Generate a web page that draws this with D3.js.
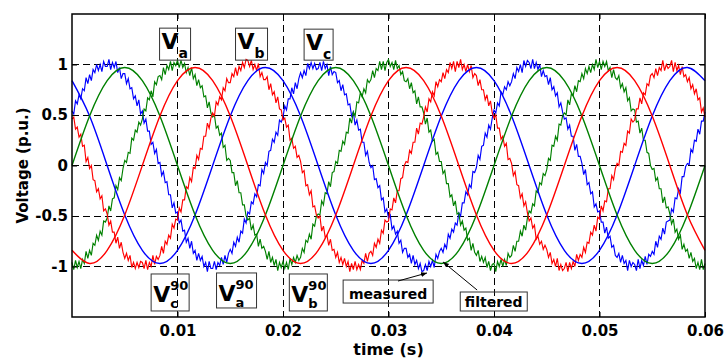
<!DOCTYPE html>
<html>
<head>
<meta charset="utf-8">
<script src="https://cdn.jsdelivr.net/npm/d3@7"></script>
<style>
  body { margin: 0; background: #fff; }
  svg { display: block; font-family: "DejaVu Sans", sans-serif; font-weight: bold; }
</style>
</head>
<body>
<svg width="725" height="358"></svg>
<script>
// sample spacing of the traces (s)
const measuredStep = 1 / 6000;
const filteredStep = 1 / 600;

// axis ticks
const xTicks = [0.01, 0.02, 0.03, 0.04, 0.05, 0.06];
const yTicks = [-1, -0.5, 0, 0.5, 1];
const yTickLabels = ["-1", "-0.5", "0", "0.5", "1"];

// measured phase voltages (p.u.), with switching ripple
const measuredA = [
  -0.96,-1.03,-0.94,-1.01,-0.95,-1.02,-0.93,-0.97,-0.85,-0.92,
  -0.84,-0.89,-0.77,-0.79,-0.69,-0.74,-0.65,-0.69,-0.55,-0.56,
  -0.52,-0.40,-0.45,-0.33,-0.32,-0.20,-0.24,-0.12,-0.15,-0.03,
  0.05,0.03,0.13,0.12,0.27,0.25,0.35,0.33,0.43,0.40,
  0.46,0.56,0.54,0.67,0.65,0.74,0.68,0.83,0.80,0.88,
  0.89,0.85,0.97,0.90,0.99,0.95,1.03,0.94,1.02,0.99,
  1.04,0.97,1.04,0.97,1.01,0.92,0.97,0.89,0.97,0.86,
  0.90,0.79,0.85,0.77,0.79,0.68,0.69,0.57,0.63,0.52,
  0.48,0.50,0.37,0.39,0.30,0.32,0.18,0.20,0.05,0.07,
  0.05,-0.07,-0.07,-0.20,-0.15,-0.27,-0.27,-0.39,-0.39,-0.50,
  -0.54,-0.52,-0.64,-0.59,-0.69,-0.68,-0.80,-0.73,-0.82,-0.80,
  -0.85,-0.93,-0.85,-0.96,-0.91,-0.99,-0.93,-1.04,-0.96,-1.01,
  -0.95,-1.02,-0.96,-1.03,-0.92,-0.98,-0.91,-0.96,-0.89,-0.94,
  -0.91,-0.82,-0.86,-0.74,-0.76,-0.68,-0.73,-0.58,-0.60,-0.50,
  -0.48,-0.49,-0.35,-0.39,-0.27,-0.28,-0.16,-0.21,-0.07,-0.06,
  0.04,0.02,0.15,0.14,0.24,0.21,0.33,0.32,0.47,0.42,
  0.53,0.49,0.63,0.62,0.72,0.68,0.76,0.72,0.85,0.82,
  0.85,0.94,0.87,0.96,0.94,1.03,0.95,1.03,0.94,1.02,
  1.05,0.98,1.02,0.95,1.04,0.96,0.99,0.90,0.93,0.84,
  0.83,0.86,0.76,0.82,0.72,0.74,0.61,0.68,0.58,0.58,
  0.52,0.41,0.47,0.33,0.35,0.24,0.26,0.11,0.13,0.04,
  0.04,-0.08,-0.05,-0.18,-0.18,-0.31,-0.29,-0.40,-0.35,-0.48,
  -0.47,-0.59,-0.55,-0.64,-0.62,-0.74,-0.72,-0.84,-0.77,-0.86,
  -0.89,-0.84,-0.95,-0.90,-0.96,-0.91,-1.01,-0.95,-1.04,-0.98,
  -0.97,-1.05,-0.95,-1.00,-0.93,-1.00,-0.93,-0.99,-0.87,-0.91,
  -0.89,-0.79,-0.85,-0.75,-0.75,-0.65,-0.70,-0.59,-0.64,-0.52,
  -0.45,-0.47,-0.38,-0.40,-0.25,-0.27,-0.17,-0.19,-0.08,-0.10,
  -0.04,0.07,0.05,0.20,0.19,0.29,0.25,0.41,0.40,0.49,
  0.52,0.50,0.65,0.60,0.71,0.69,0.79,0.73,0.84,0.83,
  0.91,0.86,0.96,0.91,0.98,0.92,1.00,0.95,1.05,0.97,
  1.03,0.95,1.03,0.98,1.03,0.94,0.97,0.87,0.95,0.87,
  0.85,0.89,0.77,0.81,0.73,0.77,0.64,0.67,0.54,0.56,
  0.55,0.43,0.44,0.32,0.37,0.25,0.25,0.13,0.12,0.00,
  -0.04,-0.03,-0.15,-0.12,-0.23,-0.23,-0.37,-0.31,-0.42,-0.41,
  -0.48,-0.58,-0.53,-0.66,-0.63,-0.73,-0.69,-0.83,-0.78,-0.85,
  -0.83,-0.92,-0.86,-0.95,-0.92,-1.02,-0.96,-1.03,-0.93,-1.03,
  -0.97
];
const measuredB = [
  0.46,0.48,0.36,0.38,0.28,0.31,0.19,0.20,0.04,0.08,
  -0.03,0.00,-0.14,-0.15,-0.26,-0.23,-0.33,-0.30,-0.45,-0.43,
  -0.48,-0.59,-0.55,-0.66,-0.66,-0.77,-0.71,-0.82,-0.76,-0.86,
  -0.92,-0.87,-0.94,-0.89,-1.01,-0.96,-1.02,-0.96,-1.01,-0.95,
  -0.96,-1.02,-0.94,-1.03,-0.96,-1.00,-0.89,-0.98,-0.90,-0.93,
  -0.89,-0.80,-0.87,-0.75,-0.78,-0.69,-0.72,-0.58,-0.62,-0.53,
  -0.54,-0.42,-0.46,-0.34,-0.34,-0.21,-0.23,-0.12,-0.16,-0.02,
  -0.03,0.10,0.06,0.17,0.16,0.29,0.29,0.42,0.37,0.47,
  0.52,0.49,0.63,0.60,0.68,0.65,0.77,0.74,0.86,0.82,
  0.82,0.91,0.88,0.97,0.89,0.98,0.94,1.02,0.97,1.05,
  1.04,0.98,1.04,0.95,1.00,0.94,1.01,0.88,0.92,0.85,
  0.85,0.88,0.75,0.81,0.70,0.73,0.62,0.68,0.56,0.55,
  0.45,0.47,0.38,0.40,0.25,0.27,0.17,0.19,0.08,0.10,
  0.04,-0.07,-0.05,-0.20,-0.19,-0.29,-0.25,-0.41,-0.40,-0.49,
  -0.52,-0.50,-0.65,-0.60,-0.71,-0.69,-0.79,-0.73,-0.84,-0.83,
  -0.91,-0.86,-0.96,-0.91,-0.98,-0.92,-1.00,-0.95,-1.05,-0.97,
  -1.03,-0.95,-1.03,-0.98,-1.03,-0.94,-0.97,-0.87,-0.95,-0.87,
  -0.85,-0.89,-0.77,-0.81,-0.73,-0.77,-0.64,-0.67,-0.54,-0.56,
  -0.55,-0.43,-0.44,-0.32,-0.37,-0.25,-0.25,-0.13,-0.12,0.00,
  0.04,0.03,0.15,0.12,0.23,0.23,0.37,0.31,0.42,0.41,
  0.48,0.58,0.53,0.66,0.63,0.73,0.69,0.83,0.78,0.85,
  0.83,0.92,0.86,0.95,0.92,1.02,0.96,1.03,0.93,1.03,
  0.97,1.05,0.95,1.00,0.93,1.00,0.93,0.99,0.87,0.91,
  0.89,0.79,0.85,0.75,0.75,0.65,0.70,0.59,0.64,0.52,
  0.47,0.50,0.37,0.37,0.26,0.29,0.19,0.22,0.06,0.07,
  0.02,-0.10,-0.06,-0.19,-0.20,-0.32,-0.28,-0.40,-0.36,-0.47,
  -0.55,-0.52,-0.62,-0.59,-0.73,-0.70,-0.78,-0.75,-0.83,-0.79,
  -0.83,-0.91,-0.86,-0.97,-0.93,-1.00,-0.92,-1.04,-0.98,-1.04,
  -1.02,-0.96,-1.05,-0.96,-1.02,-0.95,-1.00,-0.88,-0.94,-0.88,
  -0.91,-0.81,-0.86,-0.76,-0.77,-0.66,-0.69,-0.59,-0.65,-0.51,
  -0.53,-0.40,-0.45,-0.35,-0.36,-0.23,-0.23,-0.10,-0.14,-0.03,
  0.02,0.00,0.14,0.13,0.22,0.20,0.34,0.32,0.46,0.43,
  0.45,0.56,0.56,0.67,0.61,0.72,0.70,0.81,0.79,0.89,
  0.91,0.87,0.96,0.89,0.97,0.94,1.04,0.94,1.00,0.96,
  0.98,1.04,0.93,1.02,0.94,0.99,0.90,0.98,0.88,0.90,
  0.83,0.87,0.76,0.80,0.71,0.76,0.65,0.67,0.53,0.57,
  0.48
];
const measuredC = [
  0.54,0.51,0.64,0.61,0.70,0.66,0.76,0.74,0.87,0.81,
  0.90,0.84,0.95,0.92,1.00,0.94,1.00,0.93,1.03,0.98,
  0.98,1.05,0.95,1.02,0.97,1.03,0.92,0.97,0.86,0.91,
  0.91,0.81,0.86,0.76,0.77,0.66,0.69,0.59,0.65,0.51,
  0.54,0.42,0.46,0.34,0.34,0.21,0.23,0.12,0.16,0.02,
  0.03,-0.10,-0.06,-0.17,-0.16,-0.29,-0.29,-0.42,-0.37,-0.47,
  -0.46,-0.57,-0.54,-0.65,-0.64,-0.76,-0.72,-0.82,-0.75,-0.87,
  -0.84,-0.94,-0.87,-0.94,-0.90,-1.00,-0.96,-1.05,-0.95,-1.02,
  -1.02,-0.95,-1.03,-0.96,-0.99,-0.91,-0.98,-0.89,-0.96,-0.87,
  -0.83,-0.87,-0.76,-0.80,-0.71,-0.76,-0.65,-0.67,-0.53,-0.57,
  -0.46,-0.48,-0.36,-0.38,-0.28,-0.31,-0.19,-0.20,-0.04,-0.08,
  0.03,0.00,0.14,0.15,0.26,0.23,0.33,0.30,0.45,0.43,
  0.48,0.59,0.55,0.66,0.66,0.77,0.71,0.82,0.76,0.86,
  0.92,0.87,0.94,0.89,1.01,0.96,1.02,0.96,1.01,0.95,
  0.96,1.02,0.94,1.03,0.96,1.00,0.89,0.98,0.90,0.93,
  0.92,0.82,0.84,0.74,0.80,0.70,0.71,0.60,0.61,0.49,
  0.53,0.40,0.45,0.35,0.36,0.23,0.23,0.10,0.14,0.03,
  -0.02,0.00,-0.14,-0.13,-0.22,-0.20,-0.34,-0.32,-0.46,-0.43,
  -0.52,-0.49,-0.63,-0.60,-0.68,-0.65,-0.77,-0.74,-0.86,-0.82,
  -0.82,-0.91,-0.88,-0.97,-0.89,-0.98,-0.94,-1.02,-0.97,-1.05,
  -1.04,-0.98,-1.04,-0.95,-1.00,-0.94,-1.01,-0.88,-0.92,-0.85,
  -0.82,-0.86,-0.78,-0.82,-0.68,-0.72,-0.63,-0.66,-0.57,-0.59,
  -0.47,-0.50,-0.37,-0.37,-0.26,-0.29,-0.19,-0.22,-0.06,-0.07,
  -0.02,0.10,0.06,0.19,0.20,0.32,0.28,0.40,0.36,0.47,
  0.55,0.52,0.62,0.59,0.73,0.70,0.78,0.75,0.83,0.79,
  0.83,0.91,0.86,0.97,0.93,1.00,0.92,1.04,0.98,1.04,
  1.02,0.96,1.05,0.96,1.02,0.95,1.00,0.88,0.94,0.88,
  0.89,0.80,0.87,0.75,0.78,0.69,0.72,0.58,0.62,0.53,
  0.46,0.47,0.36,0.40,0.29,0.29,0.15,0.21,0.09,0.09,
  0.02,-0.09,-0.04,-0.19,-0.17,-0.28,-0.26,-0.41,-0.38,-0.46,
  -0.45,-0.56,-0.56,-0.67,-0.61,-0.72,-0.70,-0.81,-0.79,-0.89,
  -0.91,-0.87,-0.96,-0.89,-0.97,-0.94,-1.04,-0.94,-1.00,-0.96,
  -0.98,-1.04,-0.93,-1.02,-0.94,-0.99,-0.90,-0.98,-0.88,-0.90,
  -0.85,-0.88,-0.75,-0.81,-0.70,-0.73,-0.62,-0.68,-0.56,-0.55,
  -0.54,-0.43,-0.46,-0.32,-0.33,-0.23,-0.27,-0.11,-0.11,-0.01,
  0.02,0.01,0.16,0.13,0.25,0.24,0.36,0.31,0.44,0.44,
  0.53
];

// filtered (90 degree) voltages (p.u.)
const filteredA = [
  0, 0.49, 0.84, 0.97, 0.84, 0.49, 0, -0.49, -0.84, -0.97, -0.84, -0.49,
  0, 0.49, 0.84, 0.97, 0.84, 0.49, 0, -0.49, -0.84, -0.97, -0.84, -0.49,
  0, 0.49, 0.84, 0.97, 0.84, 0.49, 0, -0.49, -0.84, -0.97, -0.84, -0.49,
  0
];
const filteredB = [
  -0.84, -0.97, -0.84, -0.49, 0, 0.49, 0.84, 0.97, 0.84, 0.49, 0, -0.49,
  -0.84, -0.97, -0.84, -0.49, 0, 0.49, 0.84, 0.97, 0.84, 0.49, 0, -0.49,
  -0.84, -0.97, -0.84, -0.49, 0, 0.49, 0.84, 0.97, 0.84, 0.49, 0, -0.49,
  -0.84
];
const filteredC = [
  0.84, 0.49, 0, -0.49, -0.84, -0.97, -0.84, -0.49, 0, 0.49, 0.84, 0.97,
  0.84, 0.49, 0, -0.49, -0.84, -0.97, -0.84, -0.49, 0, 0.49, 0.84, 0.97,
  0.84, 0.49, 0, -0.49, -0.84, -0.97, -0.84, -0.49, 0, 0.49, 0.84, 0.97,
  0.84
];

const svg = d3.select("svg");
const plotLeft = 72, plotRight = 705, plotTop = 14, plotBottom = 317;

const x = d3.scaleLinear().domain([0, 0.06]).range([plotLeft, plotRight]);
const y = d3.scaleLinear().domain([-1.5, 1.5]).range([plotBottom, plotTop]);

svg.append("rect").attr("width", 725).attr("height", 358).attr("fill", "#fff");

// dashed grid
const grid = svg.append("g")
  .attr("stroke", "#000")
  .attr("stroke-width", 1)
  .attr("stroke-dasharray", "7,4")
  .attr("shape-rendering", "crispEdges");
grid.selectAll(".gx").data(xTicks.slice(0, -1)).enter().append("line")
  .attr("x1", d => x(d)).attr("x2", d => x(d))
  .attr("y1", plotTop).attr("y2", plotBottom);
grid.selectAll(".gy").data(yTicks).enter().append("line")
  .attr("x1", plotLeft).attr("x2", plotRight)
  .attr("y1", d => y(d)).attr("y2", d => y(d));

const colors = { a: "#008000", b: "#ff0000", c: "#0000ff" };

const measuredLine = d3.line()
  .x((d, i) => x(i * measuredStep))
  .y(d => y(d));
const filteredLine = d3.line()
  .x((d, i) => x(i * filteredStep))
  .y(d => y(d))
  .curve(d3.curveNatural);

const traces = svg.append("g").attr("fill", "none");
[[measuredC, "c"], [measuredA, "a"], [measuredB, "b"]].forEach(([vals, ph]) => {
  traces.append("path")
    .attr("d", measuredLine(vals))
    .attr("stroke", colors[ph])
    .attr("stroke-width", 1.15);
});
[[filteredC, "c"], [filteredA, "a"], [filteredB, "b"]].forEach(([vals, ph]) => {
  traces.append("path")
    .attr("d", filteredLine(vals))
    .attr("stroke", colors[ph])
    .attr("stroke-width", 1.4);
});

// axes with inward ticks
function styleAxis(g) {
  g.select(".domain").remove();
  g.attr("font-family", "DejaVu Sans, sans-serif")
    .attr("font-weight", "bold")
    .attr("font-size", 15);
  g.selectAll("text").attr("fill", "#000");
  g.selectAll("line").attr("stroke", "#000");
}
svg.append("g")
  .attr("transform", `translate(0,${plotBottom})`)
  .call(d3.axisBottom(x).tickValues(xTicks).tickSize(-5).tickPadding(8.5).tickFormat(d3.format(".2f")))
  .call(styleAxis);
svg.append("g")
  .attr("transform", `translate(0,${plotTop})`)
  .call(d3.axisTop(x).tickValues(xTicks).tickSize(-5).tickFormat(""))
  .call(styleAxis);
svg.append("g")
  .attr("transform", `translate(${plotLeft},0)`)
  .call(d3.axisLeft(y).tickValues(yTicks).tickSize(-5).tickPadding(4).tickFormat((d, i) => yTickLabels[i]))
  .call(styleAxis);
svg.append("g")
  .attr("transform", `translate(${plotRight},0)`)
  .call(d3.axisRight(y).tickValues(yTicks).tickSize(-5).tickFormat(""))
  .call(styleAxis);

// frame
svg.append("rect")
  .attr("x", plotLeft).attr("y", plotTop)
  .attr("width", plotRight - plotLeft).attr("height", plotBottom - plotTop)
  .attr("fill", "none").attr("stroke", "#000").attr("stroke-width", 1.5);

// axis titles
svg.append("text")
  .attr("x", (plotLeft + plotRight) / 2).attr("y", 355)
  .attr("text-anchor", "middle").attr("font-size", 16)
  .text("time (s)");
svg.append("text")
  .attr("transform", `translate(28,${y(0)}) rotate(-90)`)
  .attr("text-anchor", "middle").attr("font-size", 15)
  .text("Voltage (p.u.)");

// annotation boxes
function box(t, v, w, h) {
  const g = svg.append("g").attr("transform", `translate(${x(t)},${y(v)})`);
  g.append("rect").attr("width", w).attr("height", h)
    .attr("fill", "none").attr("stroke", "#333").attr("stroke-width", 1);
  return g;
}
function phaseLabel(t, v, w, h, sub, sup) {
  const g = box(t, v, w, h);
  g.append("text").attr("x", 2).attr("y", sup ? 28 : 21).attr("font-size", 22).text("V");
  if (sup) {
    g.append("text").attr("x", 19).attr("y", 16).attr("font-size", 13).text(sup);
    g.append("text").attr("x", 19).attr("y", 34).attr("font-size", 13).text(sub);
  } else {
    g.append("text").attr("x", 19).attr("y", 30).attr("font-size", 14).text(sub);
  }
}
phaseLabel(0.0083, 1.36, 31, 32, "a");
phaseLabel(0.0155, 1.36, 32, 32, "b");
phaseLabel(0.0220, 1.35, 29, 31, "c");
phaseLabel(0.0075, -1.074, 38, 37, "c", "90");
phaseLabel(0.0137, -1.064, 40, 35, "a", "90");
phaseLabel(0.0206, -1.074, 38, 37, "b", "90");

function wordLabel(t, v, w, h, txt) {
  const g = box(t, v, w, h);
  g.append("text").attr("x", w / 2).attr("y", h - 4)
    .attr("text-anchor", "middle").attr("font-size", 14).text(txt);
}
wordLabel(0.0257, -1.134, 90, 23, "measured");
wordLabel(0.0368, -1.2525, 67, 19, "filtered");

// arrows
svg.append("defs").append("marker")
  .attr("id", "arrow")
  .attr("viewBox", "0 0 10 10")
  .attr("refX", 10).attr("refY", 5)
  .attr("markerWidth", 6).attr("markerHeight", 6)
  .attr("orient", "auto")
  .append("path").attr("d", "M0,1L10,5L0,9Z").attr("fill", "#000");

function arrow(t1, v1, t2, v2) {
  svg.append("line")
    .attr("x1", x(t1)).attr("y1", y(v1))
    .attr("x2", x(t2)).attr("y2", y(v2))
    .attr("stroke", "#000").attr("stroke-width", 1)
    .attr("marker-end", "url(#arrow)");
}
arrow(0.0309, -1.144, 0.03365, -1.064);
arrow(0.0384, -1.233, 0.03517, -0.955);
</script>
</body>
</html>
